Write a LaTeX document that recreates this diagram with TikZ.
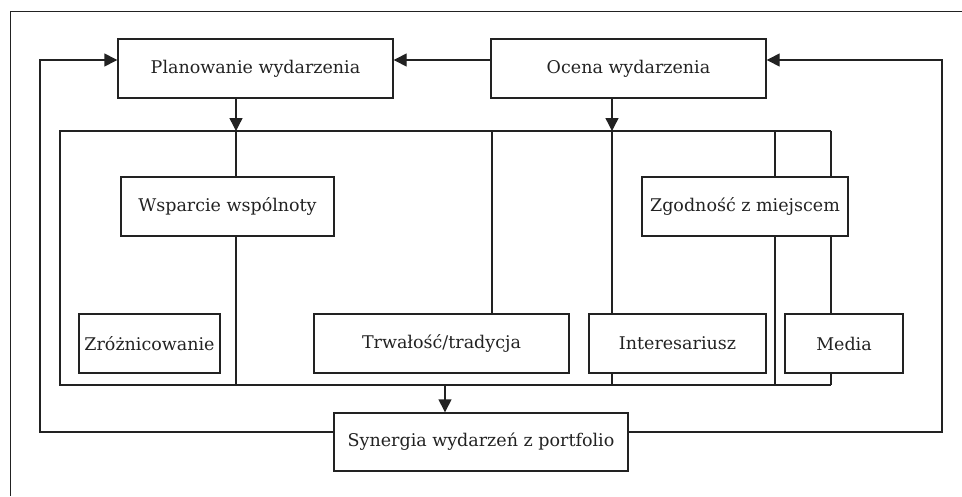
\documentclass[tikz,border=0pt]{standalone}
\usepackage{fontspec}
\setmainfont{DejaVu Serif}
\usetikzlibrary{arrows.meta}
\definecolor{ink}{HTML}{222222}
\begin{document}
\begin{tikzpicture}[x=1pt,y=-1pt,
  line width=1.4pt, draw=ink,
  box/.style={draw=ink, rectangle, inner sep=0pt, line width=1.4pt,
    font=\fontsize{17.5}{20}\selectfont, text=ink},
  link/.style={draw=ink, line width=1.4pt},
  arr/.style={link, -{Triangle[length=13pt,width=13pt]}}]
\useasboundingbox (0,0) rectangle (962,496);
% page frame
\draw[ink, line width=0.8pt] (10,496) -- (10,11) -- (962,11);

% boxes
\node[box, minimum width=275pt, minimum height=59pt] (plan) at (255.5,68.5) {Planowanie wydarzenia};
\node[box, minimum width=275pt, minimum height=59pt] (ocena) at (628.5,68.5) {Ocena wydarzenia};
\node[box, minimum width=213pt, minimum height=59pt] (wsp) at (227.5,206.5) {Wsparcie wspólnoty};
\node[box, minimum width=206pt, minimum height=59pt] (zgod) at (745,206.5) {Zgodność z miejscem};
\node[box, minimum width=141pt, minimum height=59pt] (zroz) at (149.5,343.5) {Zróżnicowanie};
\node[box, minimum width=255pt, minimum height=59pt] (trw) at (441.5,343.5) {Trwałość/tradycja};
\node[box, minimum width=177pt, minimum height=59pt] (inter) at (677.5,343.5) {Interesariusz};
\node[box, minimum width=118pt, minimum height=59pt] (media) at (844,343.5) {Media};
\node[box, minimum width=294pt, minimum height=58pt] (syn) at (481,442) {Synergia wydarzeń z portfolio};

% bus corners and taps
\coordinate (tl) at (60,131);
\coordinate (tr) at (831,131);
\coordinate (bl) at (60,385);
\coordinate (br) at (831,385);
\coordinate (inA) at (236,131);
\coordinate (inB) at (612,131);
\coordinate (out) at (445,385);
\coordinate (loopL) at (40,60);
\coordinate (loopR) at (942,60);

% upper feeds into the bus
\draw[arr] (plan.south -| inA) -- (inA);
\draw[arr] (ocena.south -| inB) -- (inB);
\draw[arr] (ocena.west |- loopL) -- (plan.east |- loopL);

% the bus itself
\draw[link] (br) -- (bl) -- (tl) -- (tr);
\draw[link] (inA) -- (wsp.north -| inA);
\draw[link] (wsp.south -| inA) -- (bl -| inA);
\draw[link] (tl -| 492,0) -- (trw.north -| 492,0);
\draw[link] (inB) -- (inter.north -| inB);
\draw[link] (inter.south -| inB) -- (bl -| inB);
\draw[link] (tl -| 775,0) -- (zgod.north -| 775,0);
\draw[link] (zgod.south -| 775,0) -- (bl -| 775,0);
\draw[link] (tr) -- (zgod.north -| tr);
\draw[link] (zgod.south -| tr) -- (media.north -| tr);
\draw[link] (media.south -| tr) -- (br);

% bus into synergy
\draw[arr] (out) -- (syn.north -| out);

% feedback loops
\draw[arr] (syn.west |- 0,432) -| (loopL) -- (plan.west |- loopL);
\draw[arr] (syn.east |- 0,432) -| (loopR) -- (ocena.east |- loopR);
\end{tikzpicture}
\end{document}
